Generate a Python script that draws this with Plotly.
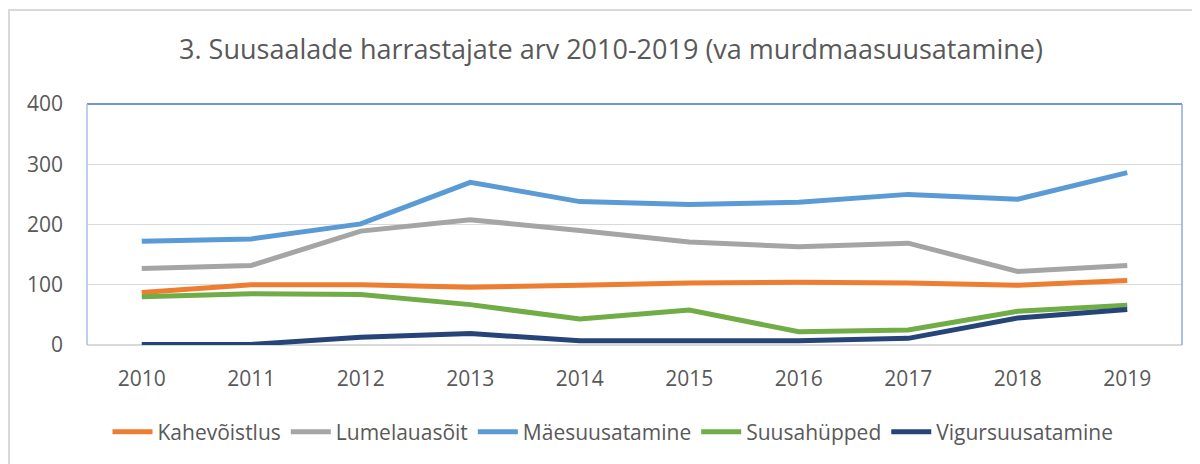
import plotly.graph_objects as go

years = ["2010", "2011", "2012", "2013", "2014", "2015", "2016", "2017", "2018", "2019"]
kahevoistlus = [87, 100, 100, 96, 99, 103, 104, 103, 99, 107]
lumelauasoit = [127, 132, 189, 208, 190, 171, 163, 169, 122, 132]
maesuusatamine = [172, 176, 201, 270, 238, 233, 237, 250, 242, 286]
suusahupped = [80, 85, 84, 67, 43, 58, 22, 25, 56, 66]
vigursuusatamine = [1, 1, 13, 19, 7, 8, 7, 11, 45, 59]
y_ticks = [0, 100, 200, 300, 400]

series = [
    ("Kahevõistlus", kahevoistlus, "#ED7D31"),
    ("Lumelauasõit", lumelauasoit, "#A5A5A5"),
    ("Mäesuusatamine", maesuusatamine, "#5B9BD5"),
    ("Suusahüpped", suusahupped, "#70AD47"),
    ("Vigursuusatamine", vigursuusatamine, "#264478"),
]

FONT = "'Open Sans', Lato, sans-serif"
TXT = "#595959"

fig = go.Figure()
for name, vals, col in series:
    fig.add_trace(go.Scatter(x=years, y=vals, name=name, mode="lines",
                             line=dict(color=col, width=5)))

# figure is drawn with an 8px page offset, so sizes are reduced by 8
W, H = 1192, 456
L, R, T, B = 79, 18, 96, 119
PW, PH = W - L - R, H - T - B

def px_x(p):
    return (p - L) / PW

def px_y(p):
    return (H - B - p) / PH

shapes = [
    # outer chart border
    dict(type="rect", xref="paper", yref="paper", x0=px_x(1), x1=px_x(1215),
         y0=px_y(480), y1=px_y(2), line=dict(color="#D9D9D9", width=2), layer="below"),
    # plot area border (top, right, left)
    dict(type="line", xref="paper", yref="paper", x0=0, x1=1, y0=1, y1=1,
         line=dict(color="#4472C4", width=1.5)),
    dict(type="line", xref="paper", yref="paper", x0=1, x1=1, y0=0, y1=1,
         line=dict(color="#8FAADC", width=1.5)),
    dict(type="line", xref="paper", yref="paper", x0=0, x1=0, y0=0, y1=1,
         line=dict(color="#A9BFE8", width=1.5)),
]

fig.update_layout(
    width=W, height=H,
    margin=dict(l=L, r=R, t=T, b=B),
    paper_bgcolor="white", plot_bgcolor="white",
    font=dict(family=FONT, color=TXT, size=20),
    title=dict(text="3. Suusaalade harrastajate arv 2010-2019 (va murdmaasuusatamine)",
               x=px_x(603), xanchor="center", xref="paper",
               y=1 - 42 / H, yanchor="middle", yref="container",
               font=dict(family=FONT, size=27, color=TXT)),
    xaxis=dict(type="category", range=[-0.5, 9.5], showgrid=False, showline=False,
               ticks="", ticklabelstandoff=19, tickfont=dict(size=21, color=TXT)),
    yaxis=dict(range=[0, 400], tickvals=y_ticks, showgrid=True, gridcolor="#D9D9D9",
               gridwidth=1.2, zeroline=True, zerolinecolor="#D9D9D9", zerolinewidth=1.5,
               showline=False, ticks="", ticklabelstandoff=23,
               tickfont=dict(size=21, color=TXT)),
    legend=dict(orientation="h", x=px_x(605), xanchor="center", y=px_y(424), yanchor="middle",
                font=dict(size=21, color=TXT), itemwidth=40, tracegroupgap=0),
    shapes=shapes,
    showlegend=True,
)

fig.write_html("out.html")
